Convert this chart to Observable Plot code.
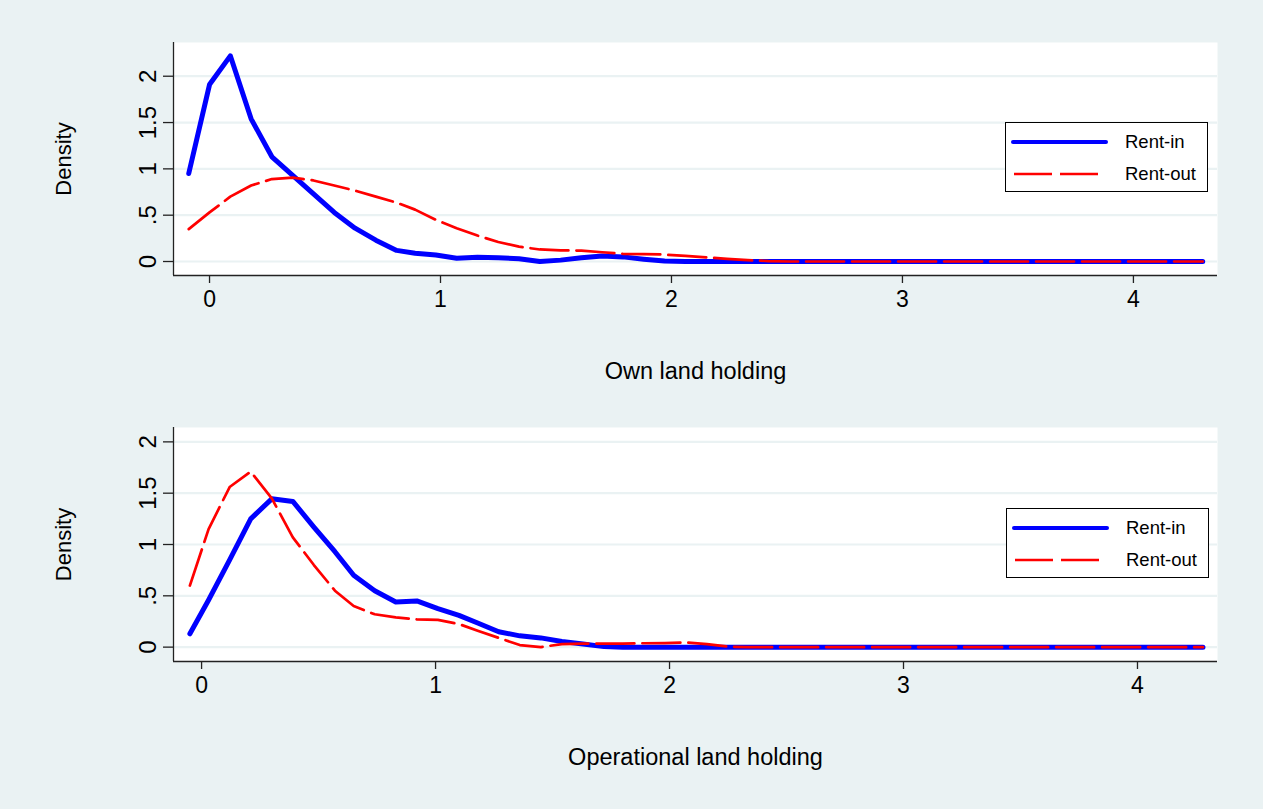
<!DOCTYPE html>
<html><head><meta charset="utf-8">
<script src="https://cdn.jsdelivr.net/npm/d3@7"></script>
<script src="https://cdn.jsdelivr.net/npm/@observablehq/plot@0.6"></script>
<style>
body{margin:0;background:#eaf2f3;}
#chart{position:relative;width:1263px;height:809px;background:#eaf2f3;font-family:"Liberation Sans",Arial,sans-serif;overflow:hidden;}
.panel{position:absolute;left:0;}
.legend{position:absolute;background:#fff;border:1px solid #000;box-sizing:border-box;}
</style></head><body><div id="chart"></div>
<script>
// ---- data ----
const seriesNames = ["Rent-in", "Rent-out"];
const ownX = [-0.09,0.00,0.09,0.18,0.27,0.36,0.45,0.54,0.63,0.72,0.81,0.89,0.98,1.07,1.16,1.25,1.34,1.43,1.52,1.61,1.70,1.79,1.88,1.97,2.06,2.15,2.24,2.33,2.42,2.51,2.60,2.69,2.78,2.87,2.96,3.05,3.13,3.22,3.31,3.40,3.49,3.58,3.67,3.76,3.85,3.94,4.03,4.12,4.21,4.30];
const ownRentIn = [0.95,1.91,2.22,1.54,1.13,0.93,0.73,0.53,0.36,0.23,0.12,0.09,0.07,0.035,0.045,0.04,0.03,0.0,0.015,0.04,0.06,0.05,0.025,0.005,0,0,0,0,0,0,0,0,0,0,0,0,0,0,0,0,0,0,0,0,0,0,0,0,0,0];
const ownRentOut = [0.35,0.53,0.70,0.82,0.89,0.905,0.875,0.82,0.765,0.70,0.635,0.56,0.45,0.36,0.28,0.21,0.16,0.13,0.12,0.118,0.10,0.083,0.08,0.075,0.06,0.045,0.028,0.015,0.005,0,0,0,0,0,0,0,0,0,0,0,0,0,0,0,0,0,0,0,0,0];
const opX = [-0.05,0.03,0.12,0.21,0.30,0.39,0.48,0.57,0.65,0.74,0.83,0.92,1.01,1.10,1.18,1.27,1.36,1.45,1.54,1.63,1.72,1.80,1.89,1.98,2.07,2.16,2.25,2.33,2.42,2.51,2.60,2.69,2.78,2.86,2.95,3.04,3.13,3.22,3.31,3.40,3.48,3.57,3.66,3.75,3.84,3.93,4.02,4.10,4.19,4.28];
const opRentIn = [0.13,0.46,0.85,1.25,1.445,1.42,1.17,0.93,0.70,0.55,0.44,0.45,0.375,0.31,0.235,0.15,0.11,0.09,0.055,0.03,0.005,0,0,0,0,0,0,0,0,0,0,0,0,0,0,0,0,0,0,0,0,0,0,0,0,0,0,0,0,0];
const opRentOut = [0.60,1.15,1.56,1.71,1.45,1.07,0.80,0.55,0.40,0.32,0.29,0.27,0.265,0.225,0.16,0.09,0.02,0.0,0.03,0.035,0.035,0.035,0.038,0.04,0.045,0.03,0.005,0,0,0,0,0,0,0,0,0,0,0,0,0,0,0,0,0,0,0,0,0,0,0];
const xTicks = [0, 1, 2, 3, 4];
const xTickLabels = ["0", "1", "2", "3", "4"];
const yTicks = [0, 0.5, 1, 1.5, 2];
const yTickLabels = ["0", ".5", "1", "1.5", "2"];
const xTitles = ["Own land holding", "Operational land holding"];
const yTitle = "Density";

const BLUE = "#0000ff", RED = "#ff0000", BG = "#eaf2f3", AXIS = "#222";
const chart = document.getElementById("chart");

function panel(xs, inVals, outVals, cfg) {
  const dIn = xs.map((x, i) => ({x, y: inVals[i]}));
  const dOut = xs.map((x, i) => ({x, y: outVals[i]}));
  const svg = Plot.plot({
    width: 1263, height: cfg.height,
    marginTop: cfg.mt, marginBottom: cfg.mb, marginLeft: 173, marginRight: 46,
    style: {background: "transparent", fontFamily: '"Liberation Sans", Arial, sans-serif', color: "#000", overflow: "visible"},
    x: {domain: cfg.xd},
    y: {domain: cfg.yd},
    marks: [
      Plot.frame({fill: "white", stroke: null}),
      Plot.gridY(yTicks, {stroke: BG, strokeOpacity: 1, strokeWidth: 2.2}),
      Plot.line(dIn, {x: "x", y: "y", stroke: BLUE, strokeWidth: 5, strokeLinejoin: "round", strokeLinecap: "round"}),
      Plot.line(dOut, {x: "x", y: "y", stroke: RED, strokeWidth: 2.7, strokeDasharray: "38,8", strokeLinejoin: "round"}),
      Plot.ruleX([cfg.xd[0]], {stroke: AXIS, strokeWidth: 1.3}),
      Plot.ruleY([cfg.yd[0]], {stroke: AXIS, strokeWidth: 1.3}),
      Plot.axisX(xTicks, {tickSize: 8, tickPadding: 7.5, fontSize: 23, tickFormat: (d) => xTickLabels[xTicks.indexOf(d)], label: null, stroke: AXIS, strokeWidth: 1.3}),
      Plot.axisY(yTicks, {tickSize: 10, tickFormat: () => "", label: null, stroke: AXIS, strokeWidth: 1.3}),
      Plot.text(yTicks, {y: (d) => d, frameAnchor: "left", dx: -25, rotate: -90, text: (d, i) => yTickLabels[i], fontSize: 24, textAnchor: "middle", lineAnchor: "middle", fill: "#000"}),
      Plot.text([cfg.xTitle], {frameAnchor: "bottom", dy: 96, text: (d) => d, fontSize: 23.5, textAnchor: "middle", lineAnchor: "middle", fill: "#000"}),
      Plot.text([yTitle], {frameAnchor: "left", dx: -110, rotate: -90, text: (d) => d, fontSize: 22, textAnchor: "middle", lineAnchor: "middle", fill: "#000"})
    ]
  });
  svg.classList.add("panel");
  svg.style.top = cfg.top + "px";
  chart.appendChild(svg);

  const lg = document.createElement("div");
  lg.className = "legend";
  Object.assign(lg.style, {left: cfg.lgLeft + "px", top: cfg.lgTop + "px", width: "203px", height: "70px"});
  lg.innerHTML =
    `<svg width="203" height="70" style="position:absolute;left:-1px;top:-1px">
      <line x1="8" y1="20" x2="101" y2="20" stroke="${BLUE}" stroke-width="4" stroke-linecap="round"/>
      <line x1="9" y1="52" x2="94" y2="52" stroke="${RED}" stroke-width="2.7" stroke-dasharray="38,8"/>
      <text x="120" y="20" dy="0.35em" font-size="18.5" fill="#000">${seriesNames[0]}</text>
      <text x="120" y="52" dy="0.35em" font-size="18.5" fill="#000">${seriesNames[1]}</text>
    </svg>`;
  chart.appendChild(lg);
}

panel(ownX, ownRentIn, ownRentOut, {top: 0, height: 400, mt: 42, mb: 125, xd: [-0.156, 4.364], yd: [-0.151, 2.364], xTitle: xTitles[0], lgLeft: 1005, lgTop: 122});
panel(opX, opRentIn, opRentOut, {top: 400, height: 409, mt: 27, mb: 148, xd: [-0.12, 4.342], yd: [-0.14, 2.14], xTitle: xTitles[1], lgLeft: 1006, lgTop: 508});
</script></body></html>
